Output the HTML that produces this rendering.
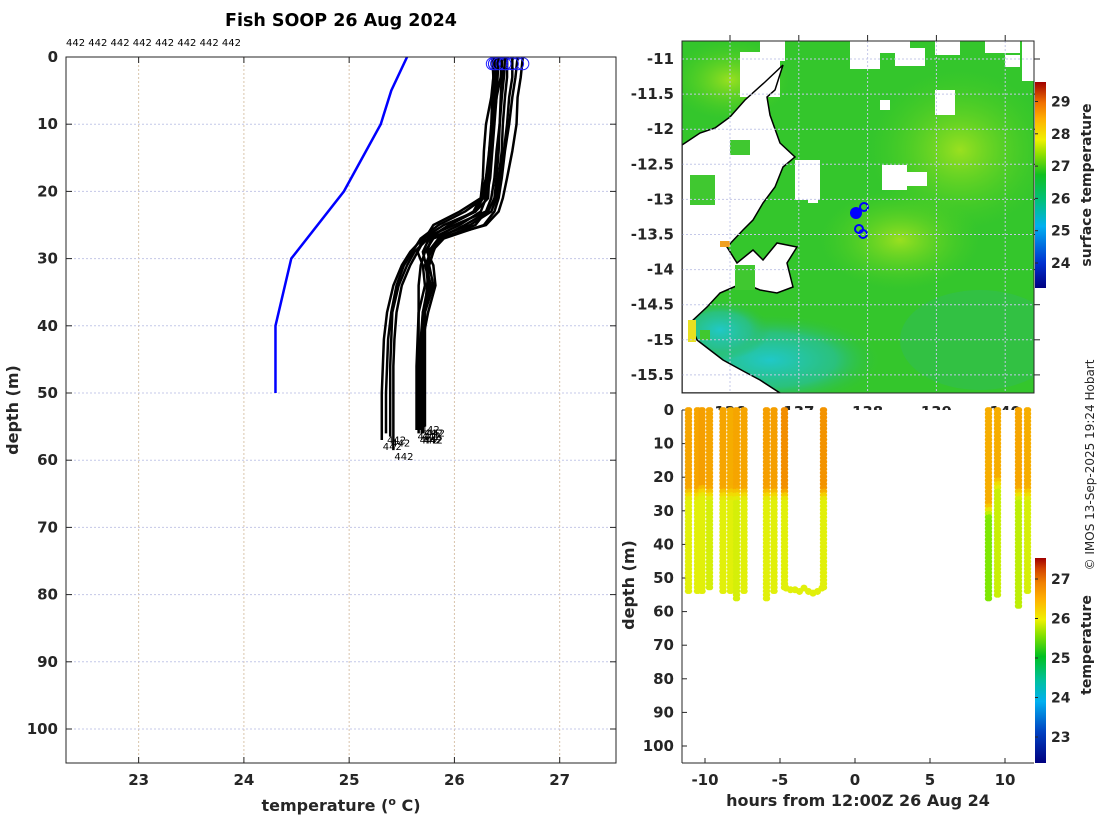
<!DOCTYPE html>
<html><head><meta charset="utf-8">
<style>
html,body{margin:0;padding:0;background:#fff;}
svg{display:block;font-family:"DejaVu Sans","Liberation Sans",sans-serif;}
.tk{font-size:15px;font-weight:bold;fill:#262626;}
.lb{font-size:16px;font-weight:bold;fill:#262626;}
</style></head>
<body>
<svg id="fig" width="1100" height="820" viewBox="0 0 1100 820" xmlns="http://www.w3.org/2000/svg">
<defs>
<linearGradient id="cb1" x1="0" y1="1" x2="0" y2="0">
<stop offset="0" stop-color="#000080"/><stop offset="0.12" stop-color="#0030d0"/><stop offset="0.3" stop-color="#00b0f0"/><stop offset="0.42" stop-color="#00c080"/><stop offset="0.55" stop-color="#10c020"/><stop offset="0.65" stop-color="#90e000"/><stop offset="0.72" stop-color="#f0f000"/><stop offset="0.82" stop-color="#ffb000"/><stop offset="0.9" stop-color="#f07000"/><stop offset="1" stop-color="#a00000"/>
</linearGradient>
<linearGradient id="cb2" x1="0" y1="1" x2="0" y2="0">
<stop offset="0" stop-color="#000080"/><stop offset="0.15" stop-color="#0040c0"/><stop offset="0.3" stop-color="#00b0f0"/><stop offset="0.4" stop-color="#00c0a0"/><stop offset="0.52" stop-color="#00c020"/><stop offset="0.62" stop-color="#80e000"/><stop offset="0.7" stop-color="#f0f000"/><stop offset="0.8" stop-color="#ffb000"/><stop offset="0.88" stop-color="#f08000"/><stop offset="0.95" stop-color="#d04000"/><stop offset="1" stop-color="#a00000"/>
</linearGradient>
<radialGradient id="teal" cx="0.5" cy="0.5" r="0.5"><stop offset="0" stop-color="#20c8c8"/><stop offset="0.6" stop-color="#28c090" stop-opacity="0.8"/><stop offset="1" stop-color="#30c040" stop-opacity="0"/></radialGradient>
<radialGradient id="yel" cx="0.5" cy="0.5" r="0.5"><stop offset="0" stop-color="#9ae020"/><stop offset="1" stop-color="#50d020" stop-opacity="0"/></radialGradient>
<clipPath id="mapclip"><rect x="682" y="41" width="352" height="352"/></clipPath>
<clipPath id="lclip"><rect x="66" y="57" width="550" height="706"/></clipPath>
</defs>

<text x="341" y="26" text-anchor="middle" style="font-size:17.5px;font-weight:bold">Fish SOOP 26 Aug 2024</text>
<text x="66" y="46" style="font-size:10px">442 442 442 442 442 442 442 442</text>

<g id="left"></g>
<text transform="translate(18,410) rotate(-90)" text-anchor="middle" class="lb">depth (m)</text>
<text x="341" y="811" text-anchor="middle" class="lb">temperature (<tspan dy="-6" style="font-size:11px">o</tspan><tspan dy="6"> C)</tspan></text>

<!-- map -->
<g id="map">
<g clip-path="url(#mapclip)">
<rect x="682" y="41" width="352" height="352" fill="#34c62c"/>
<ellipse cx="960" cy="150" rx="90" ry="80" fill="url(#yel)"/>
<ellipse cx="900" cy="240" rx="80" ry="50" fill="url(#yel)"/>
<ellipse cx="730" cy="80" rx="60" ry="40" fill="url(#yel)"/>
<ellipse cx="770" cy="360" rx="110" ry="45" fill="url(#teal)"/>
<ellipse cx="720" cy="330" rx="50" ry="30" fill="url(#teal)"/>
<ellipse cx="980" cy="340" rx="80" ry="50" fill="#30b870" opacity="0.35"/>
<g fill="#fff">
<rect x="740" y="52" width="40" height="45"/><rect x="760" y="41" width="25" height="20"/>
<rect x="850" y="41" width="30" height="28"/><rect x="875" y="41" width="35" height="12"/>
<rect x="895" y="48" width="30" height="18"/><rect x="935" y="41" width="25" height="14"/>
<rect x="985" y="41" width="35" height="12"/><rect x="1005" y="55" width="15" height="12"/>
<rect x="1022" y="41" width="12" height="40"/>
<rect x="795" y="160" width="25" height="40"/><rect x="808" y="195" width="10" height="8"/>
<rect x="882" y="165" width="25" height="25"/><rect x="905" y="172" width="22" height="14"/>
<rect x="935" y="90" width="20" height="25"/><rect x="880" y="100" width="10" height="10"/>
</g>
<path d="M682,145 L700,133 L715,128 L730,117 L745,100 L765,82 L783,65 L775,90 L767,97 L770,115 L780,143 L795,157 L783,167 L775,187 L763,203 L753,220 L743,230 L727,247 L737,263 L753,250 L763,260 L777,243 L797,247 L787,263 L793,287 L777,293 L760,290 L743,283 L720,293 L707,307 L690,323 L697,340 L710,350 L723,360 L745,372 L760,380 L780,393 L682,393 Z" fill="#fff" stroke="#000" stroke-width="1.5"/>
<g fill="#40c830">
<rect x="730" y="140" width="20" height="15"/><rect x="690" y="175" width="25" height="30"/><rect x="735" y="265" width="20" height="25"/><rect x="700" y="330" width="10" height="10"/>
</g>
<rect x="720" y="241" width="10" height="6" fill="#f0a020"/>
<rect x="688" y="320" width="8" height="22" fill="#e8e020"/>
<circle cx="856" cy="213" r="6" fill="#0000ff"/>
<g fill="none" stroke="#0000ff" stroke-width="2"><circle cx="864" cy="207" r="4"/><circle cx="859" cy="229" r="4"/><circle cx="863" cy="234" r="4"/></g>
</g>
<g id="mapgrid"></g>
<rect x="682" y="41" width="352" height="352" fill="none" stroke="#262626" stroke-width="1"/>
</g>
<g id="lonlabels"></g>
<rect x="1035" y="82" width="11" height="206" fill="url(#cb1)"/>
<g id="cb1t"></g>
<text transform="translate(1091,185) rotate(-90)" text-anchor="middle" style="font-size:14px;font-weight:bold" fill="#262626">surface temperature</text>

<!-- scatter -->
<g id="sc"></g>
<rect x="1035" y="558" width="11" height="205" fill="url(#cb2)"/>
<g id="cb2t"></g>
<text transform="translate(1091,645) rotate(-90)" text-anchor="middle" style="font-size:14px;font-weight:bold" fill="#262626">temperature</text>
<text transform="translate(634,585) rotate(-90)" text-anchor="middle" class="lb">depth (m)</text>
<text x="858" y="806" text-anchor="middle" class="lb">hours from 12:00Z 26 Aug 24</text>
<text transform="translate(1094,465) rotate(-90)" text-anchor="middle" style="font-size:12px" fill="#262626">© IMOS 13-Sep-2025 19:24 Hobart</text>
</svg>
<script>
// ---- left profile data ----
const depthLevels=[0,3,6,10,14,18,21,23,25,27,29,31,34,38,42,46,50,54,57];
const profiles=[
[26.36,26.37,26.36,26.35,26.33,26.3,26.27,26.2,25.9,25.7,25.58,25.5,25.42,25.36,25.33,25.32,25.31,25.31,25.31],
[26.40,26.40,26.38,26.36,26.33,26.32,26.28,26.1,25.85,25.68,25.6,25.52,25.45,25.40,25.37,25.36,25.35,25.35,25.35],
[26.45,26.44,26.40,26.37,26.34,26.30,26.25,26.05,25.8,25.72,25.65,25.58,25.5,25.45,25.43,25.42,25.42,25.42,25.42],
[26.38,26.37,26.35,26.30,26.28,26.27,26.25,26.18,25.95,25.75,25.62,25.55,25.47,25.41,25.40,25.39,25.39,25.39,25.39],
[26.65,26.63,26.60,26.59,26.55,26.50,26.46,26.42,26.3,25.85,25.75,25.76,25.8,25.72,25.70,25.70,25.70,25.70,25.70],
[26.6,26.58,26.55,26.52,26.48,26.45,26.42,26.38,26.28,25.9,25.78,25.72,25.78,25.70,25.69,25.68,25.68,25.68,25.68],
[26.5,26.5,26.48,26.46,26.45,26.42,26.4,26.35,26.15,25.8,25.72,25.68,25.66,25.66,25.66,25.66,25.66,25.66,25.66],
[26.45,26.45,26.44,26.43,26.42,26.40,26.38,26.32,26.1,25.85,25.8,25.76,25.74,25.72,25.72,25.72,25.72,25.72,25.72],
[26.38,26.38,26.37,26.36,26.34,26.33,26.32,26.2,25.95,25.76,25.7,25.73,25.75,25.7,25.68,25.67,25.67,25.67,25.67],
[26.42,26.41,26.4,26.38,26.36,26.34,26.3,26.25,26.05,25.78,25.74,25.8,25.82,25.75,25.7,25.69,25.69,25.69,25.69],
[26.55,26.55,26.52,26.5,26.47,26.44,26.4,26.3,26.0,25.7,25.65,25.7,25.72,25.66,25.65,25.64,25.64,25.64,25.64],
[26.48,26.47,26.45,26.43,26.4,26.38,26.35,26.3,26.2,25.88,25.76,25.75,25.76,25.71,25.7,25.7,25.7,25.70,25.70]
];
const profileEnd=[57,56,58.5,56.5,56,55.5,56,55,54.5,56,55.5,55];
const climDepth=[0,5,10,20,30,40,50];
const climTemp=[25.55,25.4,25.3,24.95,24.45,24.3,24.3];
const leftXTicks=[23,24,25,26,27];
const leftYTicks=[0,10,20,30,40,50,60,70,80,90,100];

// ---- scatter data ----
const castHours=[-11.1,-10.5,-10.2,-9.7,-8.8,-8.3,-7.9,-7.4,-5.9,-5.4,-4.7,-2.1,8.9,9.5,10.9,11.5];
const castMaxDepth=[55,54,54.5,53,55,55,56.5,55,56.5,54,53,53,57,56,58.5,55];
const castUpperT=[26.4,26.4,26.45,26.4,26.4,26.35,26.4,26.4,26.45,26.45,26.6,26.55,26.35,26.35,26.4,26.35];
const castDeepT=[25.85,25.85,25.85,25.8,25.85,25.85,25.8,25.85,25.85,25.85,25.85,25.85,25.45,25.75,25.7,25.8];
const castMixDepth=[25,25,24,25,25,25,25,25,25,25,25,25,30,22,25,25];
const trackHours=[-4.6,-4.3,-4.0,-3.7,-3.4,-3.1,-2.8,-2.5,-2.2];
const trackDepth=[53,53.5,53.5,54,53,54,54.5,54,53];
const trackT=[25.85,25.85,25.85,25.85,25.85,25.85,25.85,25.85,25.85];
const scXTicks=[-10,-5,0,5,10];
const scYTicks=[0,10,20,30,40,50,60,70,80,90,100];
const lonTicks=[136,137,138,139,140];
const latTicks=[-11,-11.5,-12,-12.5,-13,-13.5,-14,-14.5,-15,-15.5];
const sstTicks=[24,25,26,27,28,29];
const tTicks=[23,24,25,26,27];

const NS='http://www.w3.org/2000/svg';
function mk(tag,attrs,parent,txt){const e=document.createElementNS(NS,tag);for(const k in attrs)e.setAttribute(k,attrs[k]);if(txt!==undefined)e.textContent=txt;parent.appendChild(e);return e;}

// left axes
const L={x0:66,x1:616,y0:57,y1:763,tmin:22.31,tmax:27.535,dmax:105.06};
const lx=t=>L.x0+(t-L.tmin)/(L.tmax-L.tmin)*(L.x1-L.x0);
const ly=d=>L.y0+d/L.dmax*(L.y1-L.y0);
const left=document.getElementById('left');
leftXTicks.forEach(t=>{
 const g=mk('line',{x1:lx(t),x2:lx(t),y1:L.y0,y2:L.y1,stroke:'#d8c4ac','stroke-width':1,'stroke-dasharray':'2,2'},left);
 
 
 mk('line',{x1:lx(t),x2:lx(t),y1:L.y1,y2:L.y1-6,stroke:'#262626'},left);
 mk('line',{x1:lx(t),x2:lx(t),y1:L.y0,y2:L.y0+6,stroke:'#262626'},left);
 const tx=mk('text',{x:lx(t),y:L.y1+22,'text-anchor':'middle',class:'tk'},left,String(t));
 
 
});
leftYTicks.forEach(d=>{
 const g=mk('line',{x1:L.x0,x2:L.x1,y1:ly(d),y2:ly(d),stroke:'#c4c8e8','stroke-width':1,'stroke-dasharray':'2,2'},left);
 
 
 mk('line',{x1:L.x0,x2:L.x0+6,y1:ly(d),y2:ly(d),stroke:'#262626'},left);
 mk('line',{x1:L.x1,x2:L.x1-6,y1:ly(d),y2:ly(d),stroke:'#262626'},left);
 const tx=mk('text',{x:L.x0-8,y:ly(d)+5,'text-anchor':'end',class:'tk'},left,String(d));
 
 
});
const lg=mk('g',{'clip-path':'url(#lclip)'},left);
const clim=mk('polyline',{points:climDepth.map((d,i)=>lx(climTemp[i])+','+ly(d)).join(' '),fill:'none',stroke:'#0000ff','stroke-width':2.5},lg);


profiles.forEach((p,i)=>{
 const end=profileEnd[i];const pts=[];
 depthLevels.forEach((d,j)=>{if(d<end)pts.push([lx(p[j]),ly(d)]);});
 pts.push([lx(p[p.length-1]),ly(end)]);
 const pl=mk('polyline',{points:pts.map(q=>q.join(',')).join(' '),fill:'none',stroke:'#000','stroke-width':2.5,'stroke-linejoin':'round'},lg);
 
 
 const c=mk('circle',{cx:lx(p[0]),cy:ly(1),r:6,fill:'none',stroke:'#2020ff','stroke-width':1},lg);
 
 
 const t=mk('text',{x:lx(p[p.length-1])+1,y:ly(end)+10,style:'font-size:10px'},lg,'442');
 
 
});
mk('rect',{x:L.x0,y:L.y0,width:L.x1-L.x0,height:L.y1-L.y0,fill:'none',stroke:'#262626'},left);

// map axes
const M={x0:682,x1:1034,y0:41,y1:393};
const mx=lon=>730+(lon-136)*68.8;
const my=lat=>59+(-11-lat)*70.2;
const mg=document.getElementById('mapgrid');
const lonG=document.getElementById('lonlabels');
lonTicks.forEach(l=>{
 mk('line',{x1:mx(l),x2:mx(l),y1:M.y0,y2:M.y1,stroke:'#c4c8e8','stroke-dasharray':'2,2'},mg);
 mk('line',{x1:mx(l),x2:mx(l),y1:M.y0,y2:M.y0-6,stroke:'#262626'},mg);
 const t=mk('text',{x:mx(l),y:M.y1+24,'text-anchor':'middle',class:'tk'},lonG,String(l));
 
 
});
latTicks.forEach(l=>{
 mk('line',{x1:M.x0,x2:M.x1,y1:my(l),y2:my(l),stroke:'#c4c8e8','stroke-dasharray':'2,2'},mg);
 mk('line',{x1:M.x1,x2:M.x1+6,y1:my(l),y2:my(l),stroke:'#262626'},mg);
 const t=mk('text',{x:M.x0-8,y:my(l)+5,'text-anchor':'end',class:'tk'},mg,String(l));
 
 
});
const cb1=document.getElementById('cb1t');
sstTicks.forEach(v=>{const y=263-(v-24)*32.3;
 mk('line',{x1:1035,x2:1038,y1:y,y2:y,stroke:'#262626'},cb1);
 const t=mk('text',{x:1051,y:y+5,class:'tk',style:'font-size:14px'},cb1,String(v));
 
 });

// scatter
const S={x0:682,x1:1034,y0:410,y1:763};
const sx=h=>855+h*15;
const sy=d=>S.y0+d*3.36;
const sc=document.getElementById('sc');
const stops=[[22.3,[0,0,128]],[23,[0,64,192]],[23.7,[0,176,240]],[24.2,[0,192,160]],[25,[0,192,32]],[25.5,[140,235,0]],[25.85,[225,240,10]],[26.1,[245,215,0]],[26.4,[246,165,0]],[26.7,[240,130,0]],[27.2,[210,64,0]],[27.6,[160,0,0]]];
function cmap(t){if(t<=stops[0][0])return 'rgb('+stops[0][1]+')';for(let i=1;i<stops.length;i++){if(t<=stops[i][0]){const a=stops[i-1],b=stops[i],f=(t-a[0])/(b[0]-a[0]);return 'rgb('+a[1].map((c,k)=>Math.round(c+(b[1][k]-c)*f)).join(',')+')';}}return 'rgb('+stops[stops.length-1][1]+')';}
mk('rect',{x:S.x0-4,y:S.y0,width:S.x1-S.x0+4,height:S.y1-S.y0,fill:'#fff'},sc);
scXTicks.forEach(h=>{
 mk('line',{x1:sx(h),x2:sx(h),y1:S.y1,y2:S.y1-5,stroke:'#262626'},sc);
 const t=mk('text',{x:sx(h),y:S.y1+22,'text-anchor':'middle',class:'tk'},sc,String(h));
 
 
});
scYTicks.forEach(d=>{
 mk('line',{x1:S.x0,x2:S.x0+5,y1:sy(d),y2:sy(d),stroke:'#262626'},sc);
 const t=mk('text',{x:S.x0-8,y:sy(d)+5,'text-anchor':'end',class:'tk'},sc,String(d));
 
 
});
castHours.forEach((h,i)=>{
 const md=castMaxDepth[i],mix=castMixDepth[i];
 [-0.8,0.8].forEach(off=>{
 for(let d=0;d<=md;d+=1.1){
  let f=(d-(mix-2))/4;f=Math.max(0,Math.min(1,f));
  const t=castUpperT[i]+(castDeepT[i]-castUpperT[i])*f;
  const c=mk('circle',{cx:sx(h)+off,cy:sy(d),r:2.9,fill:cmap(t)},sc);
  
  
 }});
});
trackHours.forEach((h,i)=>{
 const c=mk('circle',{cx:sx(h),cy:sy(trackDepth[i]),r:3.5,fill:cmap(trackT[i])},sc);
 
 
});
mk('line',{x1:S.x0,x2:S.x0,y1:S.y0,y2:S.y1,stroke:'#262626'},sc);
mk('line',{x1:S.x0,x2:S.x1,y1:S.y1,y2:S.y1,stroke:'#262626'},sc);
const cb2=document.getElementById('cb2t');
tTicks.forEach(v=>{const y=737-(v-23)*39.5;
 mk('line',{x1:1035,x2:1038,y1:y,y2:y,stroke:'#262626'},cb2);
 const t=mk('text',{x:1051,y:y+5,class:'tk',style:'font-size:14px'},cb2,String(v));
 
 });
</script>
</body></html>
